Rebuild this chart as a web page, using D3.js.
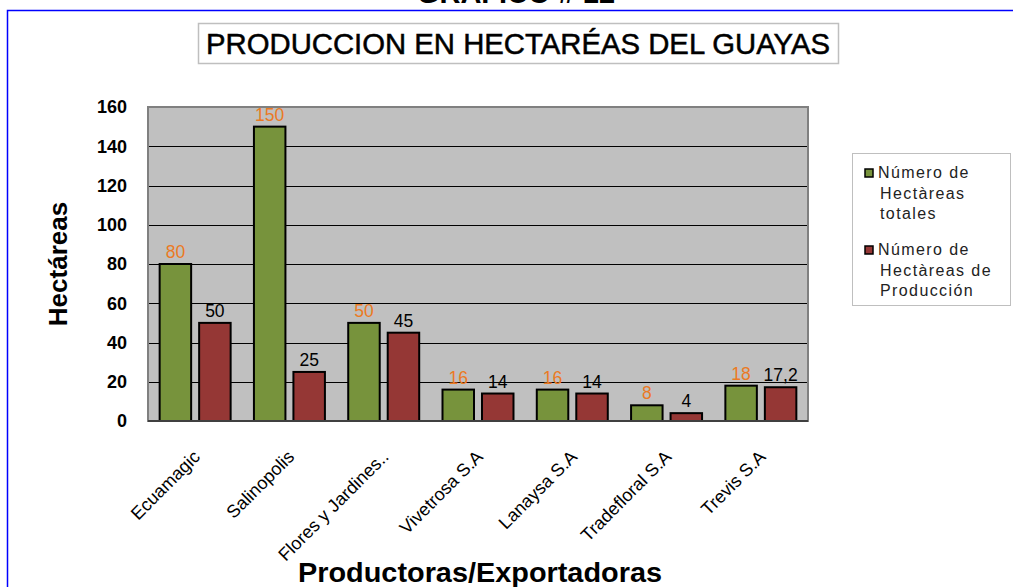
<!DOCTYPE html>
<html><head><meta charset="utf-8">
<script src="https://cdn.jsdelivr.net/npm/d3@7"></script>
<style>html,body{margin:0;padding:0;background:#fff;}svg{display:block;}</style>
</head><body>
<script>
const categories = ["Ecuamagic","Salinopolis","Flores y Jardines..","Vivetrosa S.A","Lanaysa S.A","Tradefloral S.A","Trevis S.A"];
const totales = [80,150,50,16,16,8,18];
const produccion = [50,25,45,14,14,4,17.2];
const seriesNames = ["Número de Hectàreas totales","Número de Hectàreas de Producción"];
const legendLines = [["Número de","Hectàreas","totales"],["Número de","Hectàreas de","Producción"]];
const yTicks = [0,20,40,60,80,100,120,140,160];
const chartTitle = "PRODUCCION EN HECTARÉAS DEL GUAYAS";
const topTitle = "GRAFICO # 12";
const yTitle = "Hectáreas";
const xTitle = "Productoras/Exportadoras";

const W = 1013, H = 587;
const colors = ["#77933C","#953735"];
const labelColors = ["#EB7A24","#000000"];
const plot = {l:148, r:808, t:107, b:421};

const svg = d3.select("body").append("svg").attr("width",W).attr("height",H);
const font = "'Liberation Sans', Arial, sans-serif";

// top cut title
svg.append("text").attr("x",516).attr("y",2.5).attr("text-anchor","middle")
  .attr("font-family",font).attr("font-weight","bold").attr("font-size",29).text(topTitle);
// blue frame
svg.append("path").attr("d",`M7.5,${H} V10.5 H${W}`).attr("fill","none").attr("stroke","#0000FF").attr("stroke-width",1.5);

// title box
svg.append("rect").attr("x",198.5).attr("y",23.5).attr("width",640).attr("height",40)
  .attr("fill","#fff").attr("stroke","#BFBFBF").attr("stroke-width",1.5);
svg.append("text").attr("x",518).attr("y",54).attr("text-anchor","middle")
  .attr("font-family",font).attr("font-size",29).attr("textLength",624).attr("lengthAdjust","spacingAndGlyphs")
  .attr("stroke","#000").attr("stroke-width",0.5).text(chartTitle);

const y = d3.scaleLinear().domain([0,160]).range([plot.b,plot.t]);
const x0 = d3.scaleBand().domain(categories).range([plot.l,plot.r]);
const x1 = d3.scaleBand().domain([0,1]).range([0,x0.bandwidth()]).paddingInner(0.2025).paddingOuter(0.295);

// plot background
svg.append("rect").attr("x",plot.l).attr("y",plot.t).attr("width",plot.r-plot.l).attr("height",plot.b-plot.t)
  .attr("fill","#C0C0C0");
// gridlines
svg.append("g").selectAll("line").data(yTicks.filter(v=>v>0 && v<160)).join("line")
  .attr("x1",plot.l).attr("x2",plot.r).attr("y1",d=>Math.round(y(d))+0.5).attr("y2",d=>Math.round(y(d))+0.5)
  .attr("stroke","#000").attr("stroke-width",1.2);
svg.append("rect").attr("x",plot.l).attr("y",plot.t).attr("width",plot.r-plot.l).attr("height",plot.b-plot.t)
  .attr("fill","none").attr("stroke","#808080").attr("stroke-width",2);

// y axis
const yAxis = d3.axisLeft(y).tickValues(yTicks).tickSize(0).tickPadding(21);
const ga = svg.append("g").attr("transform",`translate(${plot.l},0)`).call(yAxis);
ga.select(".domain").remove();
ga.selectAll("text").attr("font-family",font).attr("font-size",18).attr("font-weight","bold").attr("fill","#000");

// bars
const data = categories.map((c,i)=>({c, vals:[totales[i],produccion[i]]}));
const groups = svg.append("g").selectAll("g").data(data).join("g")
  .attr("transform",d=>`translate(${x0(d.c)},0)`);
groups.selectAll("rect").data(d=>d.vals.map((v,k)=>({v,k}))).join("rect")
  .attr("x",d=>x1(d.k)).attr("width",x1.bandwidth())
  .attr("y",d=>y(d.v)).attr("height",d=>y(0)-y(d.v))
  .attr("fill",d=>colors[d.k]).attr("stroke","#000").attr("stroke-width",2);
groups.selectAll("text").data(d=>d.vals.map((v,k)=>({v,k}))).join("text")
  .attr("x",d=>x1(d.k)+x1.bandwidth()/2).attr("y",d=>y(d.v)-6)
  .attr("text-anchor","middle").attr("font-family",font).attr("font-size",17.5)
  .attr("fill",d=>labelColors[d.k]).text(d=>String(d.v).replace(".",","));

// bottom axis line
svg.append("line").attr("x1",plot.l).attr("x2",plot.r).attr("y1",plot.b).attr("y2",plot.b)
  .attr("stroke","#404040").attr("stroke-width",2);

// x labels
const xAxis = d3.axisBottom(x0).tickSize(0).tickPadding(0);
const gx = svg.append("g").attr("transform",`translate(0,${plot.b})`).call(xAxis);
gx.select(".domain").remove();
gx.selectAll("text").attr("font-family",font).attr("font-size",18).attr("fill","#000")
  .attr("text-anchor","end").attr("dy",0).attr("y",0)
  .attr("transform","translate(6,37) rotate(-45)");

// axis titles
svg.append("text").attr("transform","translate(67,264) rotate(-90)").attr("text-anchor","middle")
  .attr("font-family",font).attr("font-weight","bold").attr("font-size",26).text(yTitle);
svg.append("text").attr("x",480).attr("y",582).attr("text-anchor","middle")
  .attr("font-family",font).attr("font-weight","bold").attr("font-size",28)
  .attr("textLength",364).attr("lengthAdjust","spacingAndGlyphs").text(xTitle);

// legend
svg.append("rect").attr("x",852.5).attr("y",153.5).attr("width",158).attr("height",152)
  .attr("fill","#fff").attr("stroke","#BFBFBF").attr("stroke-width",1);
const lg = svg.append("g").selectAll("g").data(seriesNames).join("g")
  .attr("transform",(d,i)=>`translate(0,${i*77})`);
lg.append("rect").attr("x",865).attr("y",169).attr("width",8).attr("height",8)
  .attr("fill",(d,i)=>colors[i]).attr("stroke","#000").attr("stroke-width",1.5);
lg.each(function(d,i){
  const t = d3.select(this).append("text").attr("font-family",font).attr("font-size",16)
    .attr("letter-spacing",1.4).attr("fill","#222");
  t.selectAll("tspan").data(legendLines[i]).join("tspan")
    .attr("x",(s,j)=>j===0?878:880).attr("y",(s,j)=>178+j*20.5).text(s=>s);
});
</script>
</body></html>
